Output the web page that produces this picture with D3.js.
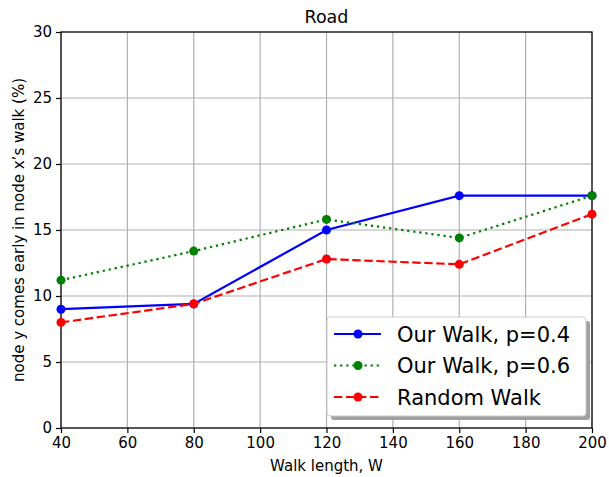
<!DOCTYPE html>
<html><head><meta charset="utf-8">
<script src="https://cdn.jsdelivr.net/npm/d3@7"></script>
<style>body{margin:0;background:#fff}svg{display:block;font-family:"DejaVu Sans",sans-serif}</style>
</head><body><svg id="c" width="609" height="477"></svg>
<script>
const walkLengths = [40, 80, 120, 160, 200];
const ourWalk04 = [9.0, 9.4, 15.0, 17.6, 17.6];
const ourWalk06 = [11.2, 13.4, 15.8, 14.4, 17.6];
const randomWalk = [8.0, 9.4, 12.8, 12.4, 16.2];
const xTicks = [40, 60, 80, 100, 120, 140, 160, 180, 200];
const yTicks = [0, 5, 10, 15, 20, 25, 30];
const seriesNames = ["Our Walk, p=0.4", "Our Walk, p=0.6", "Random Walk"];

const series = [
  {name: seriesNames[0], values: ourWalk04, color: "blue", dash: null},
  {name: seriesNames[1], values: ourWalk06, color: "green", dash: "2.3,3.8"},
  {name: seriesNames[2], values: randomWalk, color: "red", dash: "8.4,3.6"}
];

const svg = d3.select("#c");
const L = 61, R = 592, T = 32, B = 428;
const x = d3.scaleLinear().domain([40, 200]).range([L, R]);
const y = d3.scaleLinear().domain([0, 30]).range([B, T]);
const FS = 15;

// grid
svg.append("g").selectAll("line").data(xTicks).join("line")
  .attr("x1", d => x(d)).attr("x2", d => x(d)).attr("y1", T).attr("y2", B)
  .attr("stroke", "#b0b0b0").attr("stroke-width", 1.2);
svg.append("g").selectAll("line").data(yTicks).join("line")
  .attr("y1", d => y(d)).attr("y2", d => y(d)).attr("x1", L).attr("x2", R)
  .attr("stroke", "#b0b0b0").attr("stroke-width", 1.2);

// axes
const xa = svg.append("g").attr("transform", `translate(0,${B})`)
  .call(d3.axisBottom(x).tickValues(xTicks).tickSize(5).tickPadding(4).tickSizeOuter(0));
const ya = svg.append("g").attr("transform", `translate(${L},0)`)
  .call(d3.axisLeft(y).tickValues(yTicks).tickSize(5).tickPadding(4).tickSizeOuter(0));
[xa, ya].forEach(a => {
  a.select(".domain").remove();
  a.selectAll("text").attr("font-size", FS).attr("fill", "#000").attr("font-family", "DejaVu Sans");
  a.selectAll("line").attr("stroke", "#000").attr("stroke-width", 1.2);
});

// frame
svg.append("rect").attr("x", L).attr("y", T).attr("width", R - L).attr("height", B - T)
  .attr("fill", "none").attr("stroke", "#000").attr("stroke-width", 1.2);

// lines
const line = d3.line().x((d, i) => x(walkLengths[i])).y(d => y(d));
const lg = svg.append("g");
series.forEach(s => {
  lg.append("path").attr("d", line(s.values)).attr("fill", "none")
    .attr("stroke", s.color).attr("stroke-width", 2.2)
    .attr("stroke-dasharray", s.dash);
  lg.selectAll(null).data(s.values).join("circle")
    .attr("cx", (d, i) => x(walkLengths[i])).attr("cy", d => y(d)).attr("r", 4.5)
    .attr("fill", s.color);
});

// title & labels
svg.append("text").attr("x", (L + R) / 2).attr("y", 23).attr("text-anchor", "middle")
  .attr("font-size", 17.5).text("Road");
svg.append("text").attr("x", (L + R) / 2).attr("y", 471).attr("text-anchor", "middle")
  .attr("font-size", FS).text("Walk length, W");
svg.append("text").attr("transform", `translate(24,${(T + B) / 2}) rotate(-90)`)
  .attr("text-anchor", "middle").attr("font-size", FS)
  .text("node y comes early in node x’s walk (%)");

// legend
const lx = 327, ly = 317, lw = 259, lh = 99;
svg.append("rect").attr("x", lx + 4).attr("y", ly + 4).attr("width", lw).attr("height", lh)
  .attr("rx", 3).attr("fill", "#a0a0a0");
svg.append("rect").attr("x", lx).attr("y", ly).attr("width", lw).attr("height", lh)
  .attr("rx", 3).attr("fill", "#fff").attr("stroke", "#ccc").attr("stroke-width", 1);
series.forEach((s, i) => {
  const yy = ly + 17 + i * 31.5;
  svg.append("line").attr("x1", lx + 7).attr("x2", lx + 54).attr("y1", yy).attr("y2", yy)
    .attr("stroke", s.color).attr("stroke-width", 2.2).attr("stroke-dasharray", s.dash);
  svg.append("circle").attr("cx", lx + 31).attr("cy", yy).attr("r", 4.5).attr("fill", s.color);
  svg.append("text").attr("x", lx + 70).attr("y", yy + 7.5).attr("font-size", 21).text(s.name);
});
</script></body></html>
